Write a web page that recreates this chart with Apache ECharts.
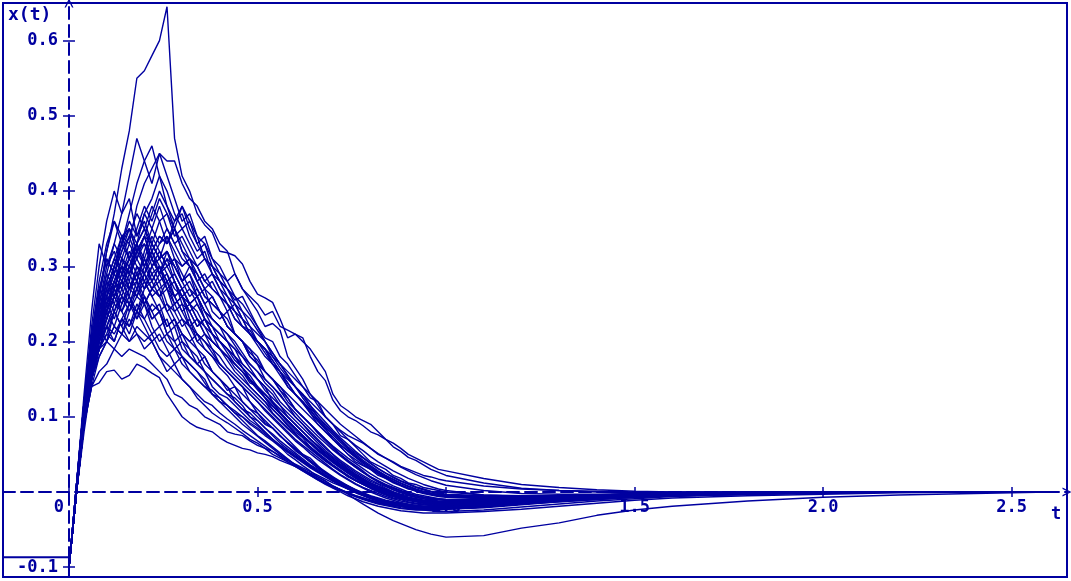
<!DOCTYPE html>
<html>
<head>
<meta charset="utf-8">
<script src="https://cdn.jsdelivr.net/npm/echarts@6/dist/echarts.min.js"></script>
<style>
  html, body { margin: 0; padding: 0; background: #fff; }
  #chart { width: 1071px; height: 581px; }
</style>
</head>
<body>
<div id="chart"></div>
<script>
// time grid shared by every sample path
const tGrid = [0, 0.02, 0.04, 0.06, 0.08, 0.1, 0.12, 0.14, 0.16, 0.18,
  0.2, 0.22, 0.24, 0.26, 0.28, 0.3, 0.32, 0.34, 0.36, 0.38,
  0.4, 0.42, 0.44, 0.46, 0.48, 0.5, 0.52, 0.54, 0.56, 0.58,
  0.6, 0.62, 0.64, 0.66, 0.68, 0.7, 0.72, 0.74, 0.76, 0.78,
  0.8, 0.82, 0.84, 0.86, 0.88, 0.9, 0.92, 0.94, 0.96, 0.98, 1.0,
  1.1, 1.2, 1.3, 1.4, 1.5, 1.6, 1.8, 2.0, 2.2, 2.4, 2.6];

const xTicks = [0, 0.5, 1.0, 1.5, 2.0, 2.5];
const yTicks = [-0.1, 0.1, 0.2, 0.3, 0.4, 0.5, 0.6];

// sample paths x(t)
const path01 = [-0.1, 0.0, 0.11, 0.19, 0.26, 0.32, 0.37, 0.43, 0.48, 0.55,
  0.56, 0.58, 0.6, 0.645, 0.47, 0.42, 0.4, 0.37, 0.355, 0.345,
  0.32, 0.318, 0.314, 0.303, 0.28, 0.263, 0.258, 0.252, 0.23, 0.205,
  0.21, 0.205, 0.18, 0.16, 0.148, 0.122, 0.108, 0.1, 0.095, 0.088,
  0.08, 0.076, 0.07, 0.06, 0.054, 0.046, 0.042, 0.036, 0.03, 0.026, 0.022,
  0.012, 0.005, 0.002, 0.0, -0.001, -0.001, 0, 0, 0, 0, 0];
const path02 = [-0.1, 0.005, 0.1, 0.17, 0.24, 0.29, 0.33, 0.37, 0.42, 0.47,
  0.44, 0.41, 0.45, 0.42, 0.39, 0.36, 0.37, 0.34, 0.31, 0.3,
  0.29, 0.27, 0.255, 0.26, 0.24, 0.22, 0.205, 0.2, 0.18, 0.17,
  0.155, 0.14, 0.125, 0.12, 0.1, 0.09, 0.075, 0.07, 0.06, 0.05,
  0.04, 0.035, 0.03, 0.022, 0.018, 0.012, 0.01, 0.006, 0.004, 0.002, 0.0,
  -0.004, -0.006, -0.005, -0.004, -0.003, -0.002, -0.001, 0, 0, 0, 0];
const path03 = [-0.1, 0.0, 0.09, 0.16, 0.21, 0.26, 0.3, 0.34, 0.33, 0.38,
  0.41, 0.43, 0.45, 0.44, 0.44, 0.41, 0.39, 0.38, 0.36, 0.35,
  0.33, 0.32, 0.29, 0.27, 0.255, 0.24, 0.22, 0.224, 0.215, 0.18,
  0.165, 0.15, 0.13, 0.115, 0.1, 0.09, 0.082, 0.075, 0.07, 0.065,
  0.058, 0.05, 0.045, 0.04, 0.034, 0.03, 0.026, 0.022, 0.02, 0.017, 0.015,
  0.008, 0.004, 0.002, 0.001, 0, 0, 0, 0, 0, 0, 0];
const path04 = [-0.1, 0.01, 0.12, 0.22, 0.3, 0.36, 0.4, 0.37, 0.39, 0.34,
  0.36, 0.33, 0.31, 0.32, 0.29, 0.27, 0.28, 0.26, 0.24, 0.23,
  0.22, 0.2, 0.19, 0.18, 0.165, 0.15, 0.14, 0.12, 0.11, 0.1,
  0.09, 0.08, 0.07, 0.06, 0.05, 0.042, 0.035, 0.028, 0.022, 0.016,
  0.012, 0.008, 0.004, 0.0, -0.003, -0.005, -0.007, -0.009, -0.01, -0.01, -0.011,
  -0.012, -0.01, -0.008, -0.006, -0.004, -0.003, -0.002, -0.001, 0, 0, 0];
const path05 = [-0.1, 0.0, 0.1, 0.17, 0.22, 0.27, 0.3, 0.33, 0.37, 0.41,
  0.44, 0.46, 0.42, 0.38, 0.35, 0.33, 0.31, 0.3, 0.28, 0.27,
  0.26, 0.24, 0.25, 0.23, 0.21, 0.2, 0.19, 0.17, 0.16, 0.14,
  0.13, 0.12, 0.11, 0.095, 0.085, 0.07, 0.06, 0.05, 0.04, 0.035,
  0.03, 0.022, 0.018, 0.012, 0.008, 0.004, 0.002, 0.0, -0.002, -0.003, -0.004,
  -0.006, -0.006, -0.005, -0.004, -0.003, -0.002, -0.001, 0, 0, 0, 0];
const path06 = [-0.1, 0.0, 0.08, 0.15, 0.2, 0.24, 0.27, 0.3, 0.29, 0.32,
  0.34, 0.33, 0.36, 0.37, 0.35, 0.38, 0.36, 0.34, 0.33, 0.31,
  0.3, 0.28, 0.29, 0.27, 0.26, 0.25, 0.235, 0.24, 0.22, 0.215,
  0.21, 0.2, 0.19, 0.175, 0.16, 0.13, 0.115, 0.108, 0.1, 0.095,
  0.09, 0.08, 0.07, 0.065, 0.058, 0.05, 0.045, 0.04, 0.035, 0.03, 0.028,
  0.018, 0.01, 0.006, 0.003, 0.001, 0, 0, 0, 0, 0, 0];
const path07 = [-0.1, 0.0, 0.1, 0.18, 0.24, 0.27, 0.3, 0.28, 0.31, 0.33,
  0.3, 0.32, 0.29, 0.27, 0.28, 0.25, 0.24, 0.22, 0.23, 0.21,
  0.19, 0.18, 0.17, 0.16, 0.145, 0.14, 0.125, 0.11, 0.1, 0.09,
  0.08, 0.072, 0.06, 0.05, 0.042, 0.035, 0.028, 0.02, 0.015, 0.01,
  0.005, 0.0, -0.004, -0.008, -0.01, -0.013, -0.015, -0.016, -0.017, -0.018, -0.018,
  -0.016, -0.013, -0.01, -0.007, -0.005, -0.003, -0.002, -0.001, 0, 0, 0];
const path08 = [-0.1, 0.01, 0.12, 0.2, 0.26, 0.24, 0.28, 0.3, 0.27, 0.29,
  0.31, 0.28, 0.3, 0.27, 0.25, 0.26, 0.23, 0.21, 0.2, 0.19,
  0.17, 0.16, 0.15, 0.14, 0.12, 0.11, 0.1, 0.09, 0.08, 0.07,
  0.06, 0.05, 0.045, 0.035, 0.025, 0.02, 0.012, 0.008, 0.002, -0.003,
  -0.007, -0.01, -0.013, -0.015, -0.018, -0.02, -0.021, -0.022, -0.022, -0.022, -0.021,
  -0.018, -0.014, -0.01, -0.007, -0.005, -0.003, -0.001, 0, 0, 0, 0];
const path09 = [-0.1, 0.0, 0.09, 0.16, 0.2, 0.23, 0.26, 0.28, 0.3, 0.28,
  0.32, 0.35, 0.33, 0.34, 0.31, 0.3, 0.31, 0.28, 0.26, 0.25,
  0.24, 0.23, 0.21, 0.2, 0.19, 0.18, 0.16, 0.15, 0.14, 0.125,
  0.11, 0.1, 0.09, 0.08, 0.07, 0.06, 0.05, 0.042, 0.035, 0.028,
  0.02, 0.015, 0.01, 0.006, 0.002, -0.002, -0.005, -0.007, -0.009, -0.01, -0.011,
  -0.012, -0.011, -0.009, -0.007, -0.005, -0.003, -0.002, -0.001, 0, 0, 0];
const path10 = [-0.1, 0.0, 0.11, 0.19, 0.23, 0.26, 0.24, 0.27, 0.25, 0.28,
  0.26, 0.24, 0.25, 0.22, 0.23, 0.21, 0.2, 0.19, 0.17, 0.16,
  0.15, 0.14, 0.13, 0.12, 0.11, 0.1, 0.09, 0.085, 0.075, 0.065,
  0.055, 0.048, 0.04, 0.032, 0.025, 0.018, 0.012, 0.006, 0.002, -0.002,
  -0.006, -0.009, -0.012, -0.014, -0.016, -0.017, -0.018, -0.019, -0.019, -0.019, -0.019,
  -0.016, -0.013, -0.01, -0.007, -0.005, -0.003, -0.002, -0.001, 0, 0, 0];
const path11 = [-0.1, 0.0, 0.1, 0.17, 0.22, 0.26, 0.29, 0.33, 0.36, 0.34,
  0.37, 0.35, 0.38, 0.35, 0.33, 0.31, 0.3, 0.29, 0.27, 0.26,
  0.24, 0.22, 0.21, 0.2, 0.18, 0.17, 0.15, 0.14, 0.13, 0.115,
  0.1, 0.09, 0.08, 0.07, 0.06, 0.05, 0.04, 0.033, 0.026, 0.02,
  0.014, 0.01, 0.005, 0.0, -0.004, -0.007, -0.009, -0.011, -0.012, -0.013, -0.014,
  -0.013, -0.011, -0.009, -0.007, -0.005, -0.003, -0.002, -0.001, 0, 0, 0];
const path12 = [-0.1, 0.01, 0.11, 0.18, 0.21, 0.24, 0.22, 0.25, 0.27, 0.26,
  0.28, 0.3, 0.28, 0.29, 0.26, 0.27, 0.25, 0.24, 0.22, 0.21,
  0.2, 0.19, 0.18, 0.165, 0.155, 0.14, 0.13, 0.12, 0.105, 0.095,
  0.085, 0.075, 0.065, 0.055, 0.048, 0.04, 0.032, 0.025, 0.018, 0.012,
  0.007, 0.003, 0.0, -0.004, -0.007, -0.01, -0.012, -0.014, -0.015, -0.016, -0.016,
  -0.015, -0.012, -0.009, -0.007, -0.005, -0.003, -0.002, -0.001, 0, 0, 0];
const path13 = [-0.1, 0.0, 0.09, 0.15, 0.19, 0.22, 0.25, 0.24, 0.27, 0.29,
  0.27, 0.3, 0.32, 0.3, 0.31, 0.29, 0.27, 0.26, 0.24, 0.23,
  0.22, 0.21, 0.195, 0.18, 0.17, 0.16, 0.145, 0.135, 0.12, 0.11,
  0.1, 0.09, 0.078, 0.068, 0.058, 0.05, 0.042, 0.035, 0.028, 0.022,
  0.016, 0.011, 0.007, 0.003, 0.0, -0.003, -0.005, -0.007, -0.008, -0.009, -0.01,
  -0.01, -0.009, -0.007, -0.005, -0.004, -0.003, -0.002, -0.001, 0, 0, 0];
const path14 = [-0.1, 0.0, 0.1, 0.17, 0.23, 0.28, 0.31, 0.29, 0.32, 0.3,
  0.28, 0.26, 0.27, 0.24, 0.22, 0.23, 0.21, 0.19, 0.18, 0.16,
  0.15, 0.14, 0.12, 0.11, 0.1, 0.09, 0.08, 0.07, 0.06, 0.05,
  0.043, 0.035, 0.028, 0.02, 0.014, 0.008, 0.003, -0.002, -0.006, -0.01,
  -0.013, -0.016, -0.018, -0.02, -0.022, -0.023, -0.024, -0.024, -0.024, -0.024, -0.023,
  -0.02, -0.016, -0.012, -0.009, -0.006, -0.004, -0.002, -0.001, 0, 0, 0];
const path15 = [-0.1, 0.0, 0.1, 0.16, 0.21, 0.25, 0.28, 0.31, 0.34, 0.37,
  0.35, 0.38, 0.36, 0.33, 0.35, 0.32, 0.3, 0.28, 0.29, 0.27,
  0.26, 0.25, 0.23, 0.22, 0.21, 0.195, 0.18, 0.17, 0.155, 0.14,
  0.13, 0.12, 0.105, 0.09, 0.08, 0.07, 0.06, 0.05, 0.043, 0.036,
  0.03, 0.024, 0.018, 0.013, 0.009, 0.005, 0.002, 0.0, -0.002, -0.004, -0.005,
  -0.007, -0.007, -0.006, -0.005, -0.004, -0.003, -0.002, -0.001, 0, 0, 0];
const path16 = [-0.1, 0.01, 0.12, 0.21, 0.27, 0.25, 0.27, 0.24, 0.26, 0.23,
  0.25, 0.22, 0.2, 0.21, 0.19, 0.18, 0.17, 0.16, 0.15, 0.13,
  0.12, 0.115, 0.105, 0.095, 0.085, 0.075, 0.068, 0.06, 0.052, 0.044,
  0.036, 0.03, 0.024, 0.018, 0.012, 0.007, 0.003, -0.001, -0.005, -0.008,
  -0.011, -0.013, -0.015, -0.017, -0.018, -0.019, -0.02, -0.02, -0.02, -0.02, -0.02,
  -0.018, -0.014, -0.011, -0.008, -0.006, -0.004, -0.002, -0.001, 0, 0, 0];
const path17 = [-0.1, 0.0, 0.1, 0.16, 0.2, 0.22, 0.21, 0.23, 0.22, 0.24,
  0.23, 0.25, 0.24, 0.22, 0.23, 0.21, 0.2, 0.21, 0.19, 0.18,
  0.17, 0.16, 0.15, 0.14, 0.13, 0.12, 0.11, 0.1, 0.09, 0.08,
  0.07, 0.062, 0.054, 0.046, 0.038, 0.03, 0.023, 0.017, 0.011, 0.006,
  0.002, -0.002, -0.006, -0.009, -0.012, -0.014, -0.016, -0.017, -0.018, -0.018, -0.018,
  -0.017, -0.014, -0.011, -0.008, -0.006, -0.004, -0.002, -0.001, 0, 0, 0];
const path18 = [-0.1, 0.0, 0.09, 0.14, 0.18, 0.2, 0.22, 0.21, 0.24, 0.26,
  0.25, 0.27, 0.29, 0.31, 0.3, 0.28, 0.29, 0.27, 0.25, 0.26,
  0.24, 0.22, 0.21, 0.2, 0.185, 0.175, 0.16, 0.15, 0.14, 0.13,
  0.12, 0.11, 0.1, 0.09, 0.08, 0.07, 0.062, 0.055, 0.047, 0.04,
  0.033, 0.027, 0.021, 0.016, 0.011, 0.007, 0.003, 0.0, -0.003, -0.005, -0.006,
  -0.008, -0.008, -0.007, -0.006, -0.004, -0.003, -0.002, -0.001, 0, 0, 0];
const path19 = [-0.1, 0.0, 0.11, 0.19, 0.25, 0.3, 0.33, 0.31, 0.29, 0.31,
  0.29, 0.27, 0.28, 0.25, 0.24, 0.22, 0.23, 0.2, 0.19, 0.18,
  0.165, 0.155, 0.14, 0.13, 0.12, 0.105, 0.095, 0.085, 0.075, 0.065,
  0.057, 0.048, 0.04, 0.032, 0.026, 0.019, 0.013, 0.008, 0.003, -0.001,
  -0.005, -0.008, -0.011, -0.013, -0.015, -0.017, -0.018, -0.019, -0.019, -0.019, -0.019,
  -0.017, -0.014, -0.01, -0.008, -0.005, -0.003, -0.002, -0.001, 0, 0, 0];
const path20 = [-0.1, 0.0, 0.1, 0.17, 0.22, 0.26, 0.28, 0.26, 0.29, 0.27,
  0.3, 0.32, 0.3, 0.28, 0.29, 0.27, 0.25, 0.26, 0.24, 0.22,
  0.21, 0.2, 0.19, 0.17, 0.16, 0.15, 0.14, 0.13, 0.115, 0.105,
  0.095, 0.085, 0.075, 0.065, 0.055, 0.047, 0.039, 0.031, 0.024, 0.018,
  0.012, 0.007, 0.003, -0.001, -0.004, -0.007, -0.009, -0.011, -0.012, -0.013, -0.013,
  -0.013, -0.011, -0.009, -0.007, -0.005, -0.003, -0.002, -0.001, 0, 0, 0];
const path21 = [-0.1, 0.0, 0.09, 0.15, 0.2, 0.24, 0.27, 0.3, 0.33, 0.31,
  0.34, 0.37, 0.4, 0.38, 0.36, 0.37, 0.34, 0.32, 0.33, 0.3,
  0.28, 0.27, 0.25, 0.24, 0.22, 0.21, 0.2, 0.185, 0.17, 0.155,
  0.14, 0.13, 0.115, 0.1, 0.09, 0.08, 0.07, 0.06, 0.052, 0.045,
  0.038, 0.031, 0.025, 0.02, 0.015, 0.011, 0.007, 0.004, 0.001, -0.001, -0.003,
  -0.005, -0.006, -0.005, -0.004, -0.003, -0.002, -0.001, 0, 0, 0, 0];
const path22 = [-0.1, 0.0, 0.09, 0.14, 0.16, 0.17, 0.19, 0.18, 0.19, 0.185,
  0.18, 0.17, 0.16, 0.15, 0.13, 0.125, 0.115, 0.11, 0.1, 0.095,
  0.09, 0.08, 0.077, 0.075, 0.068, 0.062, 0.058, 0.054, 0.048, 0.042,
  0.037, 0.032, 0.027, 0.022, 0.017, 0.012, 0.008, 0.004, 0.0, -0.004,
  -0.008, -0.011, -0.014, -0.017, -0.019, -0.021, -0.023, -0.024, -0.025, -0.026, -0.026,
  -0.024, -0.02, -0.016, -0.012, -0.009, -0.006, -0.003, -0.001, 0, 0, 0];
const path23 = [-0.1, 0.0, 0.09, 0.14, 0.145, 0.16, 0.162, 0.15, 0.155, 0.17,
  0.165, 0.158, 0.152, 0.13, 0.115, 0.1, 0.092, 0.086, 0.083, 0.08,
  0.072, 0.066, 0.062, 0.058, 0.056, 0.052, 0.05, 0.047, 0.042, 0.038,
  0.034, 0.03, 0.025, 0.02, 0.015, 0.008, 0.003, -0.003, -0.01, -0.016,
  -0.022, -0.028, -0.033, -0.038, -0.042, -0.046, -0.05, -0.053, -0.056, -0.058, -0.06,
  -0.058, -0.048, -0.041, -0.031, -0.024, -0.019, -0.012, -0.007, -0.004, -0.002, 0];
const path24 = [-0.1, 0.0, 0.1, 0.15, 0.18, 0.2, 0.19, 0.21, 0.2, 0.22,
  0.21, 0.2, 0.18, 0.17, 0.16, 0.15, 0.14, 0.125, 0.115, 0.105,
  0.098, 0.092, 0.085, 0.078, 0.07, 0.065, 0.058, 0.05, 0.045, 0.04,
  0.034, 0.028, 0.022, 0.016, 0.01, 0.005, 0.0, -0.005, -0.009, -0.013,
  -0.016, -0.019, -0.021, -0.023, -0.025, -0.026, -0.027, -0.028, -0.028, -0.028, -0.028,
  -0.026, -0.023, -0.019, -0.015, -0.011, -0.008, -0.005, -0.003, -0.001, 0, 0];
const path25 = [-0.1, 0.01, 0.11, 0.18, 0.24, 0.28, 0.31, 0.34, 0.35, 0.32,
  0.33, 0.3, 0.31, 0.29, 0.27, 0.26, 0.24, 0.25, 0.23, 0.21,
  0.2, 0.19, 0.175, 0.165, 0.15, 0.14, 0.13, 0.12, 0.11, 0.1,
  0.09, 0.08, 0.07, 0.062, 0.053, 0.045, 0.037, 0.03, 0.023, 0.017,
  0.011, 0.006, 0.002, -0.002, -0.005, -0.008, -0.01, -0.012, -0.013, -0.014, -0.015,
  -0.015, -0.012, -0.01, -0.007, -0.005, -0.003, -0.002, -0.001, 0, 0, 0];
const path26 = [-0.1, 0.0, 0.09, 0.16, 0.2, 0.25, 0.28, 0.31, 0.3, 0.33,
  0.35, 0.32, 0.34, 0.33, 0.35, 0.32, 0.31, 0.3, 0.31, 0.29,
  0.28, 0.27, 0.26, 0.25, 0.235, 0.22, 0.2, 0.18, 0.165, 0.152,
  0.14, 0.13, 0.12, 0.11, 0.1, 0.09, 0.08, 0.07, 0.062, 0.055,
  0.047, 0.04, 0.034, 0.028, 0.023, 0.018, 0.014, 0.01, 0.007, 0.004, 0.002,
  -0.004, -0.005, -0.005, -0.004, -0.003, -0.002, -0.001, 0, 0, 0, 0];
const path27 = [-0.1, 0.0, 0.1, 0.18, 0.23, 0.27, 0.25, 0.28, 0.26, 0.3,
  0.28, 0.26, 0.24, 0.25, 0.23, 0.2, 0.19, 0.18, 0.16, 0.15,
  0.14, 0.13, 0.125, 0.115, 0.1, 0.095, 0.085, 0.077, 0.068, 0.06,
  0.052, 0.044, 0.036, 0.03, 0.023, 0.017, 0.011, 0.006, 0.001, -0.003,
  -0.007, -0.01, -0.013, -0.015, -0.017, -0.018, -0.019, -0.02, -0.02, -0.02, -0.019,
  -0.016, -0.013, -0.01, -0.007, -0.005, -0.003, -0.002, -0.001, 0, 0, 0];
const path28 = [-0.1, 0.0, 0.09, 0.15, 0.19, 0.21, 0.24, 0.26, 0.25, 0.27,
  0.29, 0.27, 0.26, 0.28, 0.26, 0.24, 0.22, 0.23, 0.21, 0.2,
  0.19, 0.175, 0.16, 0.15, 0.14, 0.13, 0.12, 0.105, 0.095, 0.085,
  0.077, 0.068, 0.06, 0.052, 0.044, 0.036, 0.029, 0.022, 0.016, 0.011,
  0.006, 0.002, -0.002, -0.005, -0.008, -0.01, -0.012, -0.013, -0.014, -0.015, -0.015,
  -0.014, -0.012, -0.01, -0.007, -0.005, -0.003, -0.002, -0.001, 0, 0, 0];
const path29 = [-0.1, 0.01, 0.12, 0.2, 0.27, 0.31, 0.29, 0.32, 0.34, 0.31,
  0.33, 0.31, 0.29, 0.3, 0.28, 0.26, 0.27, 0.25, 0.23, 0.22,
  0.21, 0.2, 0.18, 0.17, 0.16, 0.15, 0.135, 0.125, 0.115, 0.1,
  0.09, 0.08, 0.07, 0.06, 0.052, 0.044, 0.036, 0.029, 0.022, 0.016,
  0.01, 0.005, 0.001, -0.003, -0.006, -0.009, -0.011, -0.013, -0.014, -0.015, -0.016,
  -0.015, -0.012, -0.01, -0.007, -0.005, -0.003, -0.002, -0.001, 0, 0, 0];
const path30 = [-0.1, 0.0, 0.1, 0.17, 0.21, 0.23, 0.26, 0.24, 0.22, 0.25,
  0.23, 0.21, 0.22, 0.2, 0.19, 0.2, 0.18, 0.17, 0.16, 0.15,
  0.14, 0.13, 0.12, 0.11, 0.105, 0.095, 0.085, 0.075, 0.065, 0.057,
  0.05, 0.042, 0.035, 0.028, 0.021, 0.015, 0.009, 0.004, -0.001, -0.005,
  -0.009, -0.012, -0.015, -0.017, -0.019, -0.021, -0.022, -0.022, -0.022, -0.022, -0.021,
  -0.019, -0.015, -0.012, -0.009, -0.006, -0.004, -0.002, -0.001, 0, 0, 0];
const path31 = [-0.1, 0.0, 0.1, 0.18, 0.25, 0.29, 0.27, 0.31, 0.29, 0.33,
  0.31, 0.34, 0.32, 0.3, 0.31, 0.28, 0.29, 0.26, 0.27, 0.24,
  0.23, 0.24, 0.21, 0.2, 0.19, 0.17, 0.16, 0.15, 0.135, 0.125,
  0.11, 0.1, 0.09, 0.078, 0.068, 0.058, 0.049, 0.041, 0.033, 0.026,
  0.019, 0.013, 0.008, 0.003, -0.001, -0.004, -0.007, -0.009, -0.011, -0.012, -0.013,
  -0.013, -0.011, -0.009, -0.007, -0.005, -0.003, -0.002, -0.001, 0, 0, 0];
const path32 = [-0.1, 0.0, 0.09, 0.16, 0.22, 0.2, 0.24, 0.22, 0.25, 0.23,
  0.26, 0.24, 0.22, 0.23, 0.2, 0.21, 0.19, 0.17, 0.18, 0.16,
  0.15, 0.135, 0.14, 0.12, 0.11, 0.105, 0.092, 0.085, 0.074, 0.066,
  0.058, 0.05, 0.042, 0.034, 0.027, 0.02, 0.014, 0.008, 0.003, -0.002,
  -0.006, -0.01, -0.013, -0.016, -0.018, -0.02, -0.021, -0.022, -0.023, -0.023, -0.023,
  -0.021, -0.017, -0.013, -0.01, -0.007, -0.005, -0.003, -0.001, 0, 0, 0];
const path33 = [-0.1, 0.01, 0.11, 0.19, 0.26, 0.32, 0.36, 0.33, 0.35, 0.32,
  0.34, 0.31, 0.29, 0.31, 0.28, 0.26, 0.25, 0.26, 0.23, 0.22,
  0.2, 0.19, 0.18, 0.165, 0.15, 0.14, 0.13, 0.118, 0.106, 0.095,
  0.085, 0.075, 0.066, 0.057, 0.049, 0.041, 0.034, 0.027, 0.02, 0.014,
  0.009, 0.004, 0.0, -0.004, -0.007, -0.01, -0.012, -0.014, -0.015, -0.016, -0.016,
  -0.015, -0.013, -0.01, -0.008, -0.005, -0.003, -0.002, -0.001, 0, 0, 0];
const path34 = [-0.1, 0.0, 0.1, 0.17, 0.21, 0.25, 0.27, 0.3, 0.28, 0.32,
  0.34, 0.31, 0.33, 0.35, 0.33, 0.34, 0.32, 0.3, 0.28, 0.29,
  0.27, 0.25, 0.24, 0.22, 0.21, 0.2, 0.185, 0.17, 0.16, 0.145,
  0.13, 0.12, 0.108, 0.097, 0.086, 0.076, 0.066, 0.057, 0.048, 0.04,
  0.033, 0.026, 0.02, 0.014, 0.009, 0.005, 0.001, -0.002, -0.004, -0.006, -0.007,
  -0.009, -0.009, -0.008, -0.006, -0.005, -0.003, -0.002, -0.001, 0, 0, 0];
const path35 = [-0.1, 0.0, 0.1, 0.15, 0.19, 0.22, 0.2, 0.23, 0.21, 0.24,
  0.22, 0.2, 0.21, 0.19, 0.17, 0.18, 0.16, 0.15, 0.14, 0.13,
  0.125, 0.115, 0.105, 0.1, 0.09, 0.083, 0.075, 0.068, 0.06, 0.053,
  0.046, 0.039, 0.032, 0.026, 0.02, 0.014, 0.009, 0.004, 0.0, -0.004,
  -0.008, -0.011, -0.014, -0.016, -0.018, -0.02, -0.021, -0.022, -0.022, -0.022, -0.022,
  -0.02, -0.016, -0.012, -0.009, -0.007, -0.005, -0.003, -0.001, 0, 0, 0];
const path36 = [-0.1, 0.0, 0.1, 0.17, 0.23, 0.27, 0.3, 0.33, 0.31, 0.35,
  0.38, 0.36, 0.39, 0.37, 0.34, 0.35, 0.33, 0.31, 0.32, 0.29,
  0.27, 0.26, 0.24, 0.23, 0.21, 0.2, 0.19, 0.175, 0.16, 0.15,
  0.14, 0.125, 0.112, 0.1, 0.088, 0.078, 0.068, 0.058, 0.05, 0.042,
  0.035, 0.028, 0.022, 0.017, 0.012, 0.008, 0.004, 0.001, -0.002, -0.004, -0.005,
  -0.007, -0.007, -0.006, -0.005, -0.004, -0.003, -0.002, -0.001, 0, 0, 0];
const path37 = [-0.1, 0.0, 0.11, 0.19, 0.24, 0.28, 0.26, 0.29, 0.31, 0.29,
  0.27, 0.28, 0.26, 0.27, 0.24, 0.25, 0.22, 0.21, 0.2, 0.185,
  0.17, 0.16, 0.15, 0.14, 0.13, 0.12, 0.108, 0.098, 0.088, 0.078,
  0.068, 0.06, 0.051, 0.043, 0.036, 0.029, 0.022, 0.016, 0.01, 0.005,
  0.0, -0.004, -0.008, -0.011, -0.014, -0.016, -0.018, -0.019, -0.02, -0.02, -0.02,
  -0.018, -0.015, -0.011, -0.008, -0.006, -0.004, -0.002, -0.001, 0, 0, 0];
const path38 = [-0.1, 0.0, 0.09, 0.15, 0.2, 0.24, 0.27, 0.25, 0.28, 0.26,
  0.29, 0.31, 0.29, 0.32, 0.3, 0.28, 0.3, 0.28, 0.26, 0.25,
  0.24, 0.22, 0.21, 0.2, 0.18, 0.17, 0.16, 0.15, 0.135, 0.12,
  0.11, 0.1, 0.09, 0.08, 0.07, 0.061, 0.053, 0.045, 0.038, 0.031,
  0.024, 0.018, 0.013, 0.008, 0.004, 0.0, -0.003, -0.005, -0.007, -0.009, -0.01,
  -0.011, -0.01, -0.008, -0.006, -0.005, -0.003, -0.002, -0.001, 0, 0, 0];
const path39 = [-0.1, 0.0, 0.09, 0.16, 0.21, 0.25, 0.28, 0.27, 0.3, 0.32,
  0.3, 0.33, 0.31, 0.34, 0.32, 0.3, 0.31, 0.29, 0.27, 0.28,
  0.26, 0.25, 0.23, 0.22, 0.215, 0.2, 0.19, 0.18, 0.17, 0.16,
  0.15, 0.14, 0.13, 0.12, 0.11, 0.1, 0.09, 0.082, 0.074, 0.066,
  0.058, 0.051, 0.045, 0.039, 0.033, 0.028, 0.023, 0.019, 0.015, 0.012, 0.009,
  0.002, -0.002, -0.003, -0.003, -0.002, -0.002, -0.001, 0, 0, 0, 0];
const path40 = [-0.1, 0.01, 0.12, 0.2, 0.25, 0.23, 0.26, 0.28, 0.26, 0.24,
  0.26, 0.23, 0.24, 0.21, 0.22, 0.19, 0.18, 0.17, 0.16, 0.14,
  0.13, 0.125, 0.115, 0.105, 0.095, 0.088, 0.079, 0.07, 0.062, 0.054,
  0.047, 0.04, 0.033, 0.027, 0.021, 0.015, 0.01, 0.005, 0.001, -0.003,
  -0.007, -0.01, -0.013, -0.015, -0.017, -0.018, -0.019, -0.02, -0.02, -0.02, -0.02,
  -0.018, -0.015, -0.011, -0.008, -0.006, -0.004, -0.002, -0.001, 0, 0, 0];
const path41 = [-0.1, 0.01, 0.12, 0.21, 0.28, 0.33, 0.36, 0.34, 0.31, 0.33,
  0.3, 0.28, 0.3, 0.27, 0.26, 0.24, 0.25, 0.23, 0.21, 0.2,
  0.19, 0.18, 0.165, 0.155, 0.14, 0.13, 0.12, 0.11, 0.1, 0.088,
  0.078, 0.068, 0.059, 0.05, 0.042, 0.035, 0.028, 0.021, 0.015, 0.01,
  0.005, 0.001, -0.003, -0.006, -0.009, -0.011, -0.013, -0.014, -0.015, -0.016, -0.016,
  -0.015, -0.012, -0.01, -0.007, -0.005, -0.003, -0.002, -0.001, 0, 0, 0];
const path42 = [-0.1, 0.0, 0.09, 0.15, 0.19, 0.21, 0.2, 0.23, 0.25, 0.24,
  0.27, 0.29, 0.3, 0.28, 0.26, 0.27, 0.25, 0.23, 0.22, 0.2,
  0.19, 0.18, 0.17, 0.16, 0.148, 0.136, 0.125, 0.114, 0.104, 0.094,
  0.084, 0.075, 0.066, 0.057, 0.049, 0.041, 0.034, 0.027, 0.021, 0.015,
  0.01, 0.005, 0.001, -0.003, -0.006, -0.009, -0.011, -0.013, -0.014, -0.015, -0.015,
  -0.015, -0.013, -0.01, -0.008, -0.005, -0.003, -0.002, -0.001, 0, 0, 0];
const path43 = [-0.1, 0.01, 0.13, 0.24, 0.33, 0.3, 0.32, 0.29, 0.27, 0.28,
  0.25, 0.23, 0.24, 0.21, 0.2, 0.18, 0.17, 0.16, 0.145, 0.13,
  0.12, 0.11, 0.1, 0.09, 0.082, 0.074, 0.066, 0.058, 0.05, 0.043,
  0.036, 0.029, 0.023, 0.017, 0.012, 0.007, 0.003, -0.001, -0.005, -0.008,
  -0.011, -0.014, -0.016, -0.018, -0.019, -0.02, -0.021, -0.021, -0.021, -0.021, -0.02,
  -0.018, -0.014, -0.011, -0.008, -0.006, -0.004, -0.002, -0.001, 0, 0, 0];
const path44 = [-0.1, 0.0, 0.09, 0.15, 0.19, 0.23, 0.26, 0.28, 0.27, 0.3,
  0.29, 0.32, 0.34, 0.33, 0.36, 0.38, 0.35, 0.33, 0.34, 0.31,
  0.29, 0.28, 0.26, 0.24, 0.23, 0.215, 0.2, 0.185, 0.17, 0.155,
  0.14, 0.128, 0.115, 0.104, 0.093, 0.082, 0.072, 0.063, 0.054, 0.046,
  0.038, 0.031, 0.025, 0.019, 0.014, 0.01, 0.006, 0.003, 0.0, -0.002, -0.004,
  -0.007, -0.007, -0.006, -0.005, -0.004, -0.003, -0.002, -0.001, 0, 0, 0];
const path45 = [-0.1, 0.0, 0.11, 0.18, 0.22, 0.25, 0.23, 0.26, 0.24, 0.27,
  0.25, 0.27, 0.26, 0.24, 0.25, 0.23, 0.22, 0.2, 0.21, 0.19,
  0.18, 0.165, 0.155, 0.145, 0.135, 0.125, 0.115, 0.104, 0.094, 0.084,
  0.075, 0.066, 0.057, 0.049, 0.041, 0.034, 0.027, 0.021, 0.015, 0.01,
  0.005, 0.001, -0.003, -0.006, -0.009, -0.011, -0.013, -0.015, -0.016, -0.017, -0.017,
  -0.016, -0.013, -0.01, -0.008, -0.005, -0.003, -0.002, -0.001, 0, 0, 0];
const path46 = [-0.1, 0.0, 0.1, 0.17, 0.22, 0.26, 0.29, 0.32, 0.35, 0.33,
  0.37, 0.39, 0.42, 0.4, 0.37, 0.35, 0.36, 0.33, 0.31, 0.3,
  0.28, 0.26, 0.25, 0.23, 0.22, 0.2, 0.19, 0.175, 0.16, 0.145,
  0.13, 0.118, 0.105, 0.094, 0.083, 0.073, 0.063, 0.054, 0.046, 0.038,
  0.031, 0.025, 0.019, 0.014, 0.009, 0.005, 0.002, -0.001, -0.003, -0.005, -0.006,
  -0.008, -0.008, -0.007, -0.005, -0.004, -0.003, -0.002, -0.001, 0, 0, 0];
const path47 = [-0.1, 0.0, 0.1, 0.16, 0.19, 0.2, 0.22, 0.21, 0.23, 0.21,
  0.2, 0.21, 0.19, 0.18, 0.19, 0.17, 0.16, 0.15, 0.14, 0.135,
  0.125, 0.115, 0.108, 0.1, 0.092, 0.085, 0.077, 0.07, 0.062, 0.055,
  0.048, 0.041, 0.034, 0.028, 0.022, 0.016, 0.011, 0.006, 0.002, -0.002,
  -0.006, -0.009, -0.012, -0.015, -0.017, -0.019, -0.02, -0.021, -0.022, -0.022, -0.022,
  -0.02, -0.016, -0.013, -0.01, -0.007, -0.005, -0.003, -0.001, 0, 0, 0];
const path48 = [-0.1, 0.0, 0.1, 0.19, 0.26, 0.31, 0.29, 0.27, 0.3, 0.28,
  0.31, 0.29, 0.27, 0.28, 0.25, 0.26, 0.24, 0.22, 0.23, 0.21,
  0.2, 0.185, 0.17, 0.16, 0.15, 0.138, 0.126, 0.115, 0.104, 0.093,
  0.083, 0.073, 0.064, 0.055, 0.047, 0.039, 0.032, 0.025, 0.019, 0.013,
  0.008, 0.004, 0.0, -0.004, -0.007, -0.01, -0.012, -0.013, -0.014, -0.015, -0.015,
  -0.014, -0.012, -0.009, -0.007, -0.005, -0.003, -0.002, -0.001, 0, 0, 0];
const path49 = [-0.1, 0.0, 0.09, 0.16, 0.21, 0.24, 0.26, 0.29, 0.31, 0.33,
  0.35, 0.33, 0.31, 0.32, 0.3, 0.28, 0.26, 0.27, 0.25, 0.23,
  0.22, 0.21, 0.2, 0.185, 0.17, 0.16, 0.15, 0.14, 0.128, 0.116,
  0.105, 0.094, 0.084, 0.074, 0.065, 0.056, 0.048, 0.04, 0.033, 0.026,
  0.02, 0.014, 0.009, 0.005, 0.001, -0.002, -0.005, -0.007, -0.009, -0.01, -0.011,
  -0.012, -0.011, -0.009, -0.007, -0.005, -0.003, -0.002, -0.001, 0, 0, 0];
const path50 = [-0.1, 0.0, 0.1, 0.17, 0.2, 0.22, 0.24, 0.22, 0.2, 0.21,
  0.19, 0.2, 0.18, 0.16, 0.17, 0.15, 0.14, 0.13, 0.12, 0.115,
  0.105, 0.097, 0.09, 0.082, 0.075, 0.068, 0.061, 0.054, 0.047, 0.04,
  0.034, 0.028, 0.022, 0.016, 0.011, 0.006, 0.002, -0.002, -0.006, -0.009,
  -0.012, -0.015, -0.017, -0.019, -0.021, -0.022, -0.023, -0.023, -0.023, -0.023, -0.022,
  -0.02, -0.016, -0.012, -0.009, -0.007, -0.005, -0.003, -0.001, 0, 0, 0];

const paths = [path01, path02, path03, path04, path05, path06, path07, path08, path09, path10,
  path11, path12, path13, path14, path15, path16, path17, path18, path19, path20,
  path21, path22, path23, path24, path25, path26, path27, path28, path29, path30,
  path31, path32, path33, path34, path35, path36, path37, path38, path39, path40,
  path41, path42, path43, path44, path45, path46, path47, path48, path49, path50];

const BLUE = '#0000a0';
const FONT = 'DejaVu Sans Mono';
const ARROW = 'path://M0,10 L5,0 L10,10 L8.4,10 L5,3.2 L1.6,10 Z';

// axis ranges and grid box (pixels inside the 1071x581 page)
const X_MIN = -0.175, X_MAX = 2.647;
const Y_MIN = -0.113, Y_MAX = 0.65;
const G_LEFT = 3, G_RIGHT = 4, G_TOP = 3, G_BOTTOM = 4;
const G_W = 1071 - G_LEFT - G_RIGHT;
const G_H = 581 - G_TOP - G_BOTTOM;

// where the zero lines sit, measured from each grid edge
const zeroFromBottom = (0 - Y_MIN) / (Y_MAX - Y_MIN) * G_H;
const zeroFromTop = G_H - zeroFromBottom;
const zeroFromLeft = (0 - X_MIN) / (X_MAX - X_MIN) * G_W;
const zeroFromRight = G_W - zeroFromLeft;

const chart = echarts.init(document.getElementById('chart'), null, { renderer: 'canvas' });

const labelStyle = {
  color: BLUE,
  fontFamily: FONT,
  fontWeight: 'bold',
  fontSize: 17
};
const tickStyle = { color: BLUE, width: 1.5 };

// main axes: dashed line through the origin, one half of the "+" ticks, labels
const xMain = {
  type: 'value', min: X_MIN, max: X_MAX,
  position: 'bottom',
  offset: -zeroFromBottom,
  axisLine: {
    onZero: false,
    symbol: ['none', ARROW],
    symbolSize: [10, 9],
    lineStyle: { color: BLUE, width: 2, type: [12, 6] }
  },
  axisTick: { show: true, length: 5, customValues: xTicks, lineStyle: tickStyle },
  axisLabel: Object.assign({}, labelStyle, {
    margin: 7,
    customValues: xTicks,
    formatter: function (v) {
      return v === 0 ? '{o|0}' : v.toFixed(1);
    },
    rich: { o: Object.assign({}, labelStyle, { padding: [0, 20, 0, 0] }) }
  }),
  splitLine: { show: false }
};

const yMain = {
  type: 'value', min: Y_MIN, max: Y_MAX,
  position: 'left',
  offset: -zeroFromLeft,
  axisLine: {
    onZero: false,
    symbol: ['none', ARROW],
    symbolSize: [10, 9],
    lineStyle: { color: BLUE, width: 2, type: [12, 6] }
  },
  axisTick: { show: true, length: 6, customValues: yTicks, lineStyle: tickStyle },
  axisLabel: Object.assign({}, labelStyle, {
    margin: 11,
    customValues: yTicks,
    formatter: function (v) { return v.toFixed(1); }
  }),
  splitLine: { show: false }
};

// twin axes only carry the other half of each "+" tick
const xTwin = {
  type: 'value', min: X_MIN, max: X_MAX,
  position: 'top',
  offset: -zeroFromTop,
  axisLine: { show: false, onZero: false },
  axisTick: { show: true, length: 5, customValues: xTicks, lineStyle: tickStyle },
  axisLabel: { show: false },
  splitLine: { show: false }
};
const yTwin = {
  type: 'value', min: Y_MIN, max: Y_MAX,
  position: 'right',
  offset: -zeroFromRight,
  axisLine: { show: false, onZero: false },
  axisTick: { show: true, length: 6, customValues: yTicks, lineStyle: tickStyle },
  axisLabel: { show: false },
  splitLine: { show: false }
};

const series = paths.map(function (p, k) {
  return {
    name: 'path' + (k + 1),
    type: 'line',
    xAxisIndex: 0,
    yAxisIndex: 0,
    showSymbol: false,
    silent: true,
    z: 3,
    lineStyle: { color: BLUE, width: 1.4 },
    data: tGrid.map(function (t, i) { return [t, p[i]]; })
  };
});

chart.setOption({
  animation: false,
  backgroundColor: '#ffffff',
  grid: {
    left: G_LEFT, right: G_RIGHT, top: G_TOP, bottom: G_BOTTOM,
    containLabel: false,
    outerBoundsMode: 'none',
    show: true,
    borderColor: BLUE,
    borderWidth: 2,
    backgroundColor: 'transparent'
  },
  xAxis: [xMain, xTwin],
  yAxis: [yMain, yTwin],
  series: series
});

// axis names and the small box around the lowest y label
const origin = chart.convertToPixel({ xAxisIndex: 0, yAxisIndex: 0 }, [0, 0]);
const low = chart.convertToPixel({ xAxisIndex: 0, yAxisIndex: 0 }, [0, -0.1]);
chart.setOption({
  graphic: [
    {
      type: 'text', left: 8, top: 6, silent: true,
      style: { text: 'x(t)', fill: BLUE, font: 'bold 18px "' + FONT + '"' }
    },
    {
      type: 'text', left: 1051, top: origin[1] + 14, silent: true,
      style: { text: 't', fill: BLUE, font: 'bold 17px "' + FONT + '"' }
    },
    {
      type: 'polyline', silent: true, z: 1,
      shape: { points: [[G_LEFT, low[1] - 10], [origin[0], low[1] - 10], [origin[0], 581 - G_BOTTOM]] },
      style: { stroke: BLUE, lineWidth: 2, fill: null }
    }
  ]
});
</script>
</body>
</html>
